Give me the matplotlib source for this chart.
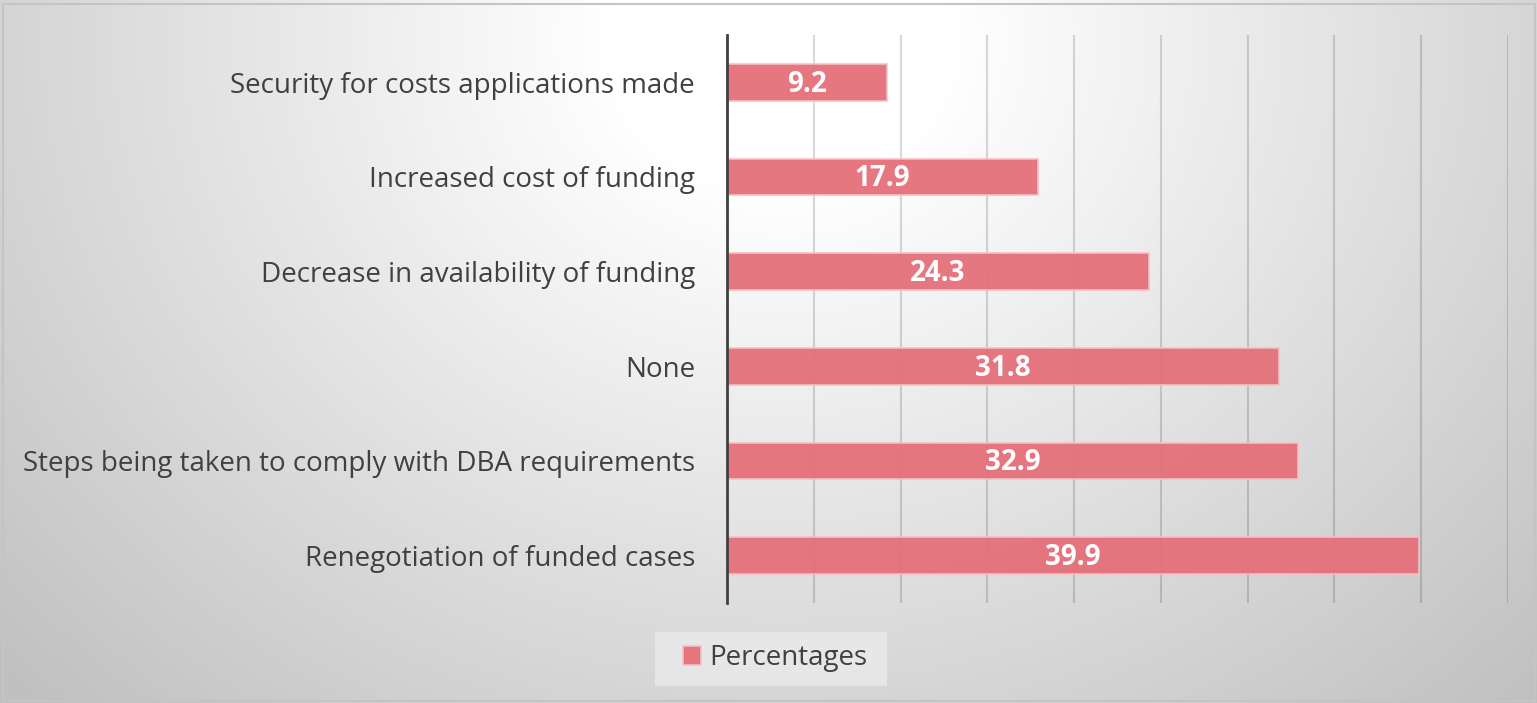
import matplotlib.pyplot as plt
import numpy as np
from matplotlib.patches import Rectangle

categories = ['Renegotiation of funded cases',
              'Steps being taken to comply with DBA requirements',
              'None',
              'Decrease in availability of funding',
              'Increased cost of funding',
              'Security for costs applications made']
percentages = [39.9, 32.9, 31.8, 24.3, 17.9, 9.2]

W, H = 1537, 703
fig = plt.figure(figsize=(W / 100, H / 100), dpi=100)

# radial background gradient, white near the top centre
yy, xx = np.mgrid[0:H, 0:W]
d = np.sqrt((xx - 780.0) ** 2 + ((yy - 40.0) * 1.15) ** 2)
g = 255 - np.clip(d - 170, 0, None) * 0.07
g = np.clip(g, 192, 255) / 255.0
img = np.dstack([g, g, g])
fig.figimage(img, xo=0, yo=0, origin='upper', zorder=-5)

# outer border
fig.patches.append(Rectangle((3 / W, 2 / H), 1 - 5 / W, 1 - 6 / H, transform=fig.transFigure,
                             fill=False, edgecolor='#c4c4c4', linewidth=1.5, zorder=1))
# legend box
fig.patches.append(Rectangle((655 / W, 1 - 686 / H), (887 - 655) / W, 54 / H,
                             transform=fig.transFigure, facecolor='#ebebeb', alpha=0.8,
                             edgecolor='none', zorder=1))

ax = fig.add_axes([727 / W, 1 - 603 / H, (1508 - 727) / W, (603 - 35) / H])
ax.set_zorder(2)
ax.patch.set_alpha(0)

y = np.arange(len(categories))
bars = ax.barh(y, percentages, height=0.39, color='#e5707a', alpha=0.95,
               edgecolor='#f5c0c4', linewidth=1.2, label='Percentages', zorder=3)

for bar, v in zip(bars, percentages):
    ax.text(v / 2, bar.get_y() + bar.get_height() / 2 - 0.02, f'{v:.1f}', ha='center', va='center',
            color='white', fontsize=20, fontweight='bold', family='Open Sans', zorder=4)

ax.set_xlim(0, 45)
ax.set_ylim(-0.5, 5.5)
ax.set_xticks(np.arange(0, 46, 5))
ax.xaxis.grid(True, color='black', alpha=0.15, linewidth=1.5, zorder=1)
ax.tick_params(axis='x', length=0, labelbottom=False)
ax.set_yticks(y)
ax.set_yticklabels(categories, family='Open Sans', fontsize=20, color='#404040')
ax.tick_params(axis='y', length=0, pad=23)
for s in ['top', 'right', 'bottom']:
    ax.spines[s].set_visible(False)
ax.spines['left'].set_color('#404040')
ax.spines['left'].set_linewidth(2)
ax.spines['left'].set_zorder(5)

leg = fig.legend(handles=[bars], labels=['Percentages'], loc='center',
                 bbox_to_anchor=(775 / W, 1 - 658 / H), frameon=False,
                 prop={'family': 'Open Sans', 'size': 20}, handlelength=0.65, handleheight=0.65,
                 handletextpad=0.3, borderpad=0, borderaxespad=0)
for t in leg.get_texts():
    t.set_color('#404040')

fig.savefig('out.png', dpi=100)
